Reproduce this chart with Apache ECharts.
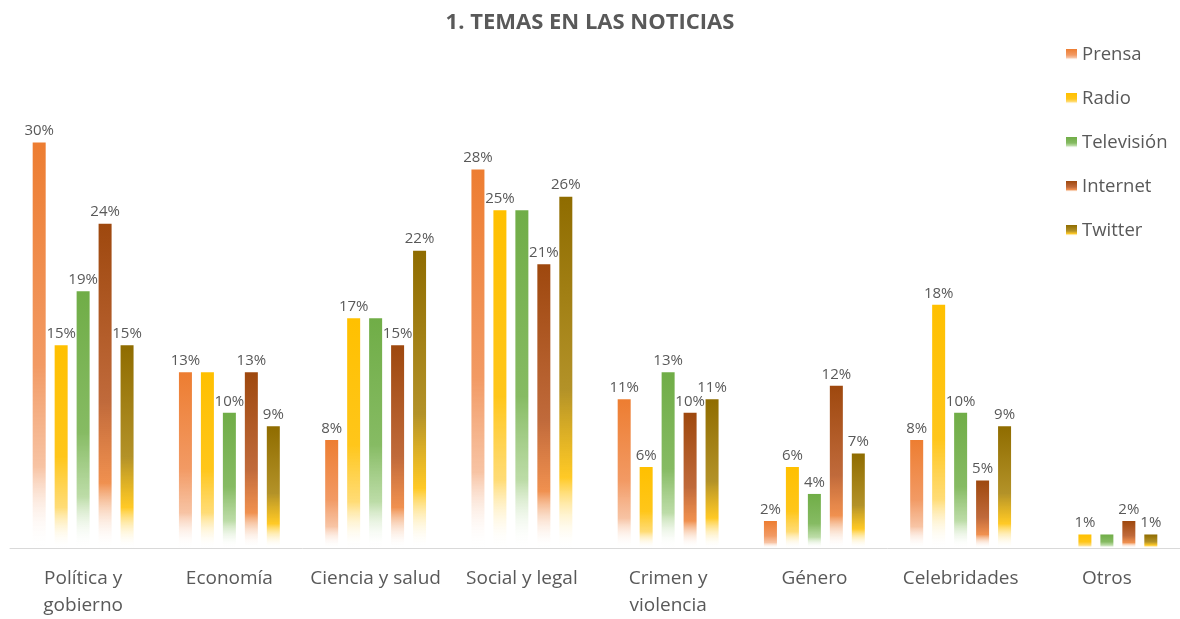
<!DOCTYPE html>
<html>
<head>
<meta charset="utf-8">
<script src="https://cdn.jsdelivr.net/npm/echarts@6/dist/echarts.min.js"></script>
<style>
  html, body { margin: 0; padding: 0; background: #fff; }
  #chart { width: 1180px; height: 619px; }
</style>
</head>
<body>
<div id="chart"></div>
<script>
// categorias del eje x
const categories = ['Política y\ngobierno', 'Economía', 'Ciencia y salud', 'Social y legal',
  'Crimen y\nviolencia', 'Género', 'Celebridades', 'Otros'];

// porcentajes por medio
const prensa = [30, 13, 8, 28, 11, 2, 8, null];
const radio = [15, 13, 17, 25, 6, 6, 18, 1];
const television = [19, 10, 17, 25, 13, 4, 10, 1];
const internet = [24, 13, 15, 21, 10, 12, 5, 2];
const twitter = [15, 9, 22, 26, 11, 7, 9, 1];

// etiquetas que no aparecen en el original (se tapan)
const hiddenLabels = {
  'Radio': [1],
  'Televisión': [2, 3, 7]
};

const textColor = '#595959';
const fontFamily = '"Open Sans", "Noto Sans", sans-serif';

function fade(top, mid, bottom) {
  return new echarts.graphic.LinearGradient(0, 0, 0, 1, [
    { offset: 0, color: top },
    { offset: 0.55, color: mid },
    { offset: 0.8, color: bottom },
    { offset: 1, color: 'rgba(255,255,255,0)' }
  ]);
}

const media = [
  { name: 'Prensa', data: prensa, color: fade('#ED7D31', '#F29A64', 'rgba(244,170,125,0.7)') },
  { name: 'Radio', data: radio, color: fade('#FFC000', '#FFC61A', 'rgba(255,205,60,0.7)') },
  { name: 'Televisión', data: television, color: fade('#70AD47', '#86BB63', 'rgba(160,205,130,0.7)') },
  { name: 'Internet', data: internet, color: fade('#9E480E', '#C06A3B', 'rgba(237,125,49,0.85)') },
  { name: 'Twitter', data: twitter, color: fade('#8F6C00', '#B39228', 'rgba(255,192,0,0.85)') }
];

const series = media.map(function (m) {
  const hide = hiddenLabels[m.name] || [];
  return {
    name: m.name,
    type: 'bar',
    data: m.data,
    barWidth: 13,
    barGap: '69%',
    itemStyle: { color: m.color },
    label: {
      show: true,
      position: 'top',
      distance: 4,
      color: textColor,
      fontSize: 15,
      fontFamily: fontFamily,
      formatter: function (p) {
        if (p.value == null || hide.indexOf(p.dataIndex) >= 0) return '';
        return p.value + '%';
      }
    }
  };
});

const chart = echarts.init(document.getElementById('chart'));
const option = {
  animation: false,
  textStyle: { fontFamily: fontFamily },
  title: {
    text: '1. TEMAS EN LAS NOTICIAS',
    left: 'center',
    top: 7,
    textStyle: { color: textColor, fontSize: 22, fontWeight: 'bold', fontFamily: fontFamily }
  },
  legend: {
    orient: 'vertical',
    left: 1061,
    top: 40,
    itemWidth: 11,
    itemHeight: 11,
    itemGap: 25,
    icon: 'rect',
    textStyle: { color: textColor, fontSize: 18.5, fontFamily: fontFamily }
  },
  grid: {
    left: 10,
    width: 1176,
    top: 75,
    bottom: 69
  },
  xAxis: {
    type: 'category',
    data: categories,
    axisLine: { lineStyle: { color: '#D9D9D9' } },
    axisTick: { show: false },
    axisLabel: {
      color: textColor,
      fontSize: 19,
      lineHeight: 27,
      margin: 17,
      interval: 0,
      fontFamily: fontFamily
    }
  },
  yAxis: {
    type: 'value',
    min: 0,
    max: 35,
    show: false,
    splitLine: { show: false }
  },
  series: series
};
chart.setOption(option);
</script>
</body>
</html>
